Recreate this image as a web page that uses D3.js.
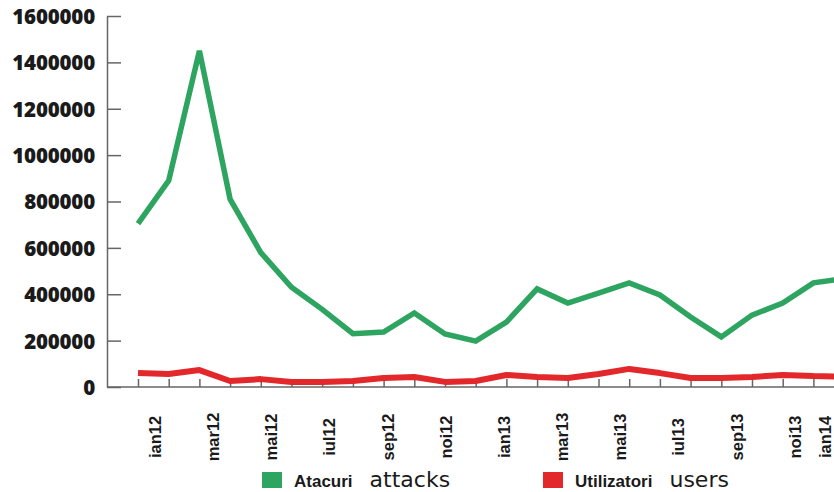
<!DOCTYPE html>
<html>
<head>
<meta charset="utf-8">
<script src="https://cdn.jsdelivr.net/npm/d3@7"></script>
<style>
  html, body { margin: 0; padding: 0; background: #fff; }
  svg { display: block; }
</style>
</head>
<body>
<svg id="chart" width="834" height="492"></svg>
<script>
// ---- data ----
const months = ["ian12","feb12","mar12","apr12","mai12","iun12","iul12","aug12","sep12","oct12","noi12","dec12",
                "ian13","feb13","mar13","apr13","mai13","iun13","iul13","aug13","sep13","oct13","noi13","dec13"];
const attacks = [705000, 890000, 1450000, 810000, 580000, 430000, 335000, 230000, 237000, 319000, 229000, 198000,
                 280000, 423000, 362000, 405000, 449000, 397000, 302000, 216000, 310000, 362000, 449000, 467000];
const users   = [60000, 56000, 73000, 26000, 34000, 22000, 22000, 26000, 39000, 43000, 22000, 26000,
                 52000, 43000, 39000, 56000, 78000, 60000, 39000, 39000, 43000, 52000, 47000, 45000];
const labelMonths = ["ian12","mar12","mai12","iul12","sep12","noi12","ian13","mar13","mai13","iul13","sep13","noi13","ian14"];
const labelIndex  = [0, 2, 4, 6, 8, 10, 12, 14, 16, 18, 20, 22, 24];
const yTicks = [0, 200000, 400000, 600000, 800000, 1000000, 1200000, 1400000, 1600000];
const legendItems = [
  { key: "Atacuri", note: "attacks", color: "#2ea461" },
  { key: "Utilizatori", note: "users", color: "#e3282b" }
];

// ---- layout ----
const W = 834, H = 492;
const axisX = 107, axisY = 387, topY = 16;
const svg = d3.select("#chart");

const x = d3.scaleLinear().domain([0, months.length - 1]).range([138, 138 + 30.7 * (months.length - 1)]);
const xLabel = d3.scaleLinear().domain([0, 22, 24]).range([155, 795, 825]);
const y = d3.scaleLinear().domain([0, 1600000]).range([axisY, topY]);

// y axis
const yAxis = svg.append("g")
  .attr("transform", `translate(${axisX},0)`)
  .call(d3.axisLeft(y).tickValues(yTicks).tickFormat(d3.format("d"))
        .tickSizeInner(-14).tickSizeOuter(0).tickPadding(12));
yAxis.select(".domain").attr("stroke", "#666").attr("stroke-width", 1.5);
yAxis.selectAll(".tick line").attr("stroke", "#666").attr("stroke-width", 1.5);
yAxis.selectAll(".tick text")
  .attr("fill", "#1a1a1a")
  .style("font-family", "'Open Sans', sans-serif")
  .style("font-weight", "800")
  .style("font-size", "20.5px")
  .style("letter-spacing", "-0.2px")
  .attr("dy", "0.36em");

// x axis ticks
const xAxis = svg.append("g")
  .attr("transform", `translate(0,${axisY})`)
  .call(d3.axisBottom(x).tickValues(d3.range(months.length)).tickFormat("")
        .tickSizeInner(-8).tickSizeOuter(0));
xAxis.select(".domain").remove();
xAxis.selectAll(".tick line").attr("stroke", "#666").attr("stroke-width", 1.5);
svg.append("line")
  .attr("x1", axisX).attr("x2", W).attr("y1", axisY).attr("y2", axisY)
  .attr("stroke", "#666").attr("stroke-width", 1.5);

// x labels
svg.append("g").selectAll("text")
  .data(labelMonths)
  .join("text")
  .attr("transform", (d, i) => `translate(${xLabel(labelIndex[i])},437) rotate(-90)`)
  .attr("text-anchor", "middle")
  .attr("dy", "0.35em")
  .style("font-family", "'Liberation Sans', Arial, sans-serif")
  .style("font-weight", "700")
  .style("font-size", "16.5px")
  .attr("fill", "#1a1a1a")
  .text(d => d);

// lines
const line = d3.line().x((d, i) => x(i)).y(d => y(d));
svg.append("path").datum(users)
  .attr("d", line).attr("fill", "none")
  .attr("stroke", legendItems[1].color).attr("stroke-width", 6)
  .attr("stroke-linejoin", "round");
svg.append("path").datum(attacks)
  .attr("d", line).attr("fill", "none")
  .attr("stroke", legendItems[0].color).attr("stroke-width", 5.5)
  .attr("stroke-linejoin", "miter");

// legend
const legendX = [262, 543];
const lg = svg.append("g").selectAll("g").data(legendItems).join("g")
  .attr("transform", (d, i) => `translate(${legendX[i]},472)`);
lg.append("rect").attr("width", 20).attr("height", 16).attr("fill", d => d.color);
lg.append("text").attr("x", 32).attr("y", 15)
  .style("font-family", "'Liberation Sans', Arial, sans-serif")
  .style("font-weight", "700").style("font-size", "17px")
  .attr("fill", "#1a1a1a").text(d => d.key);
lg.each(function(d) {
  const g = d3.select(this);
  const k = g.select("text").node().getComputedTextLength();
  g.append("text").attr("x", 32 + k + 17).attr("y", 15)
    .style("font-family", "'DejaVu Sans', sans-serif")
    .style("font-size", "22px")
    .attr("fill", "#1a1a1a").text(d.note);
});
</script>
</body>
</html>
